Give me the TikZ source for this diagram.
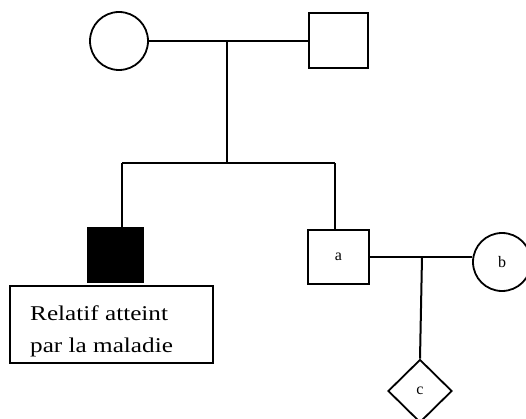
\documentclass[tikz,border=0pt]{standalone}
\usepackage{fontspec}
\setmainfont{Liberation Serif}
\usetikzlibrary{shapes.geometric}
\begin{document}
\begin{tikzpicture}[x=1pt,y=-1pt,
  ln/.style={line width=2pt,line join=miter},
  femme/.style={circle,draw,line width=1.8pt,minimum size=58pt,inner sep=0pt},
  homme/.style={rectangle,draw,line width=2pt,inner sep=0pt},
  inconnu/.style={diamond,draw,line width=1.8pt,minimum width=64pt,minimum height=63pt,inner sep=0pt},
  lbl/.style={font=\fontsize{16}{18}\selectfont},
  legtext/.style={anchor=base west,inner sep=0pt,font=\fontsize{21}{24}\selectfont}]
\useasboundingbox (0,0) rectangle (526,419);
% parents
\node[femme] (mere) at (119,41) {};
\node[homme,minimum width=59pt,minimum height=55pt] (pere) at (338.5,40.5) {};
\coordinate (j1) at (227,41);
\coordinate (sibmid) at (227,163);
\coordinate (sibL) at (122,163);
\coordinate (sibR) at (335,163);
\draw[ln] (mere.east) -- (pere.west |- mere.east);
\draw[ln] (j1) -- (sibmid);
\draw[ln] (sibL) -- (sibR);
% children
\node[homme,fill=black,minimum width=55pt,minimum height=54pt] (atteint) at (115.5,255) {};
\node[homme,minimum width=61pt,minimum height=54pt,lbl] (a) at (338.5,257) {a};
\draw[ln] (sibL) -- (sibL |- atteint.north);
\draw[ln] (sibR) -- (sibR |- a.north);
% partner b
\node[femme,lbl] (b) at (502,262) {b};
\coordinate (j2) at (422,257);
\draw[ln] (a.east) -- (j2) -- (j2 -| b.west);
% child c
\node[inconnu,lbl] (c) at (420,391) {c};
\draw[ln] (j2) -- (c.north);
% legend box
\node[draw,line width=1.1pt,minimum width=203pt,minimum height=77pt,inner sep=0pt] (leg) at (111.5,324.5) {};
\node[legtext] (t1) at (30,320) {\scalebox{1.2}[1]{Relatif atteint}};
\node[legtext] (t2) at (30,352) {\scalebox{1.2}[1]{par la maladie}};
\end{tikzpicture}
\end{document}
